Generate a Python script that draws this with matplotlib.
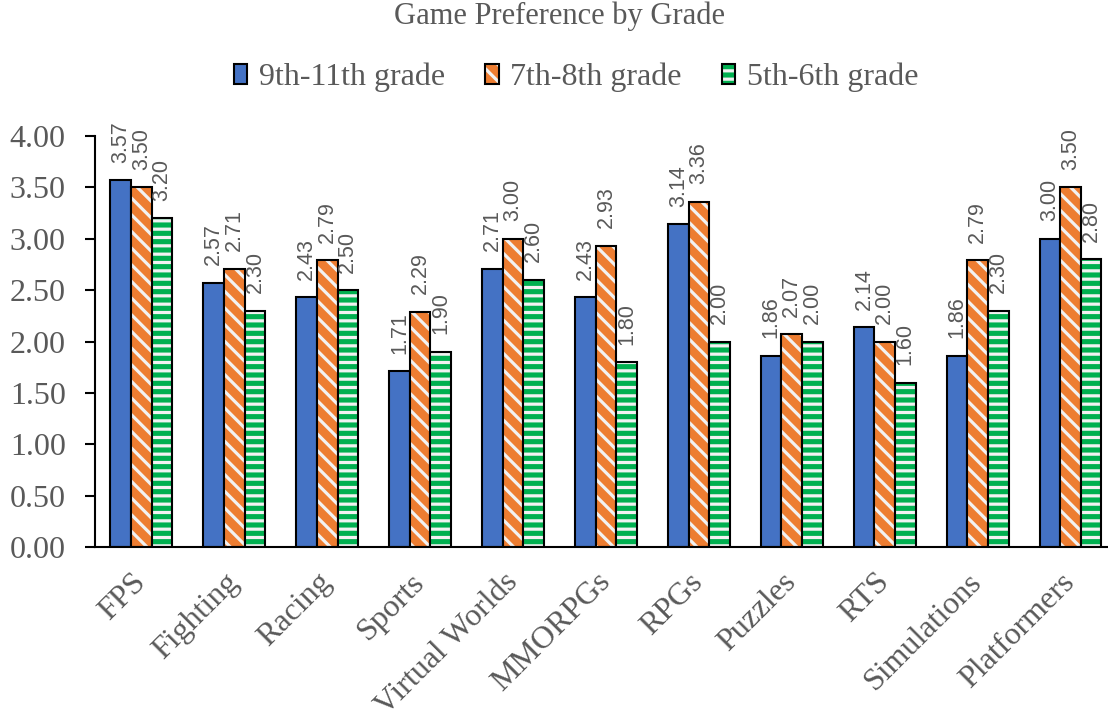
import numpy as np
import matplotlib.pyplot as plt

categories = ['FPS', 'Fighting', 'Racing', 'Sports', 'Virtual Worlds', 'MMORPGs',
              'RPGs', 'Puzzles', 'RTS', 'Simulations', 'Platformers']
grade_9_11 = [3.57, 2.57, 2.43, 1.71, 2.71, 2.43, 3.14, 1.86, 2.14, 1.86, 3.00]
grade_7_8 = [3.50, 2.71, 2.79, 2.29, 3.00, 2.93, 3.36, 2.07, 2.00, 2.79, 3.50]
grade_5_6 = [3.20, 2.30, 2.50, 1.90, 2.60, 1.80, 2.00, 2.00, 1.60, 2.30, 2.80]
series_names = ['9th-11th grade', '7th-8th grade', '5th-6th grade']

serif = ['Liberation Serif', 'DejaVu Serif']
gray = '#595959'

plt.rcParams['hatch.linewidth'] = 2.3

fig = plt.figure(figsize=(11.08, 7.19), dpi=100)
# the plot area runs a little past the right edge of the picture
ax = fig.add_axes([0.0857, 0.239, 0.9224, 0.572])

x = np.arange(len(categories))
w = 0.222
series = [grade_9_11, grade_7_8, grade_5_6]
faces = ['#4472C4', '#ED7D31', '#00B050']
hatches = [None, '\\\\', '--']

handles = []
for i, (vals, fc, h) in enumerate(zip(series, faces, hatches)):
    pos = x + (i - 1) * w
    if h:
        ax.bar(pos, vals, w, color=fc, edgecolor='#F2F2F2', hatch=h, linewidth=0)
    else:
        ax.bar(pos, vals, w, color=fc, linewidth=0)
    ax.bar(pos, vals, w, fill=False, edgecolor='black', linewidth=1.5)
    inner = plt.Rectangle((0, 0), 1, 1, facecolor=fc,
                          edgecolor='#F2F2F2' if h else fc, hatch=h, linewidth=0)
    outer = plt.Rectangle((0, 0), 1, 1, fill=False, edgecolor='black', linewidth=1.5)
    handles.append((inner, outer))
    for px, v in zip(pos, vals):
        ax.text(px, v + 0.17, f'{v:.2f}', rotation=90, ha='center', va='bottom',
                fontsize=15.5, color=gray, family=['Liberation Sans', 'DejaVu Sans'])

ax.set_ylim(0, 4)
ax.set_xlim(-0.5, len(categories) - 0.5)
ax.set_yticks(np.arange(0, 4.01, 0.5))
ax.set_yticklabels([f'{t:.2f}' for t in np.arange(0, 4.01, 0.5)])
ax.set_xticks(x)
ax.set_xticklabels(categories, rotation=45, ha='right', va='center', rotation_mode='anchor')
for lab in ax.get_yticklabels():
    lab.set_family(serif)
    lab.set_fontsize(23)
    lab.set_color(gray)
for lab in ax.get_xticklabels():
    lab.set_family(serif)
    lab.set_fontsize(23)
    lab.set_color(gray)
ax.tick_params(axis='x', length=0, pad=22)
ax.tick_params(axis='y', length=7, width=1.5, direction='out', pad=14)
for s in ['top', 'right']:
    ax.spines[s].set_visible(False)
ax.spines['left'].set_linewidth(1.5)
ax.spines['bottom'].set_linewidth(1.5)

fig.text(0.505, 0.977, 'Game Preference by Grade', ha='center', va='center',
         fontsize=22, color=gray, family=serif)

fig.legend(handles, series_names, loc='center', bbox_to_anchor=(0.52, 0.892), ncol=3,
           frameon=False, prop={'family': serif, 'size': 23}, labelcolor=gray,
           handlelength=0.42, handleheight=0.6, handletextpad=0.37, columnspacing=1.25)

fig.savefig('out.png', dpi=100)
